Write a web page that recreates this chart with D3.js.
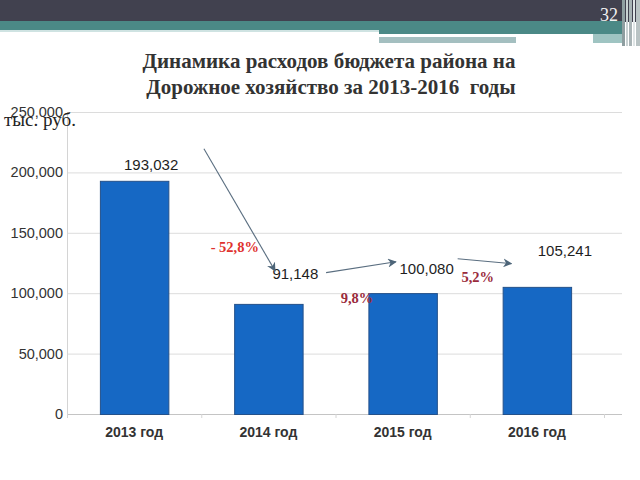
<!DOCTYPE html>
<html>
<head>
<meta charset="utf-8">
<script src="https://cdn.jsdelivr.net/npm/d3@7"></script>
<style>
  body { margin: 0; background: #fff; }
  svg { display: block; }
</style>
</head>
<body>
<svg id="chart" width="640" height="480"></svg>
<script>
// данные
const years = ['2013 год', '2014 год', '2015 год', '2016 год']
const spending = [193032, 91148, 100080, 105241]
const yTicks = [0, 50000, 100000, 150000, 200000, 250000]
// сдвиг подписей значений относительно вершины столбца (px)
const labelShift = [[17, -16], [27, -30], [24, -24], [28, -36]]
// проценты изменения: [текст, позиция по категории, значение, цвет]
const changes = [
  ['- 52,8%', 0.75, 138500, '#e0322e'],
  ['9,8%', 1.66, 96000, '#9a2b3c'],
  ['5,2%', 2.56, 113400, '#9a2b3c']
]
// стрелки: [от категории, от значения, к категории, к значению]
const arrows = [
  [0.52, 219500, 1.05, 118500],
  [1.43, 117000, 1.95, 126000],
  [2.41, 128500, 2.81, 124500]
]

const svg = d3.select('#chart')

/* ------- шапка слайда ------- */
svg.append('rect').attr('x', 0).attr('y', 0).attr('width', 640).attr('height', 22).attr('fill', '#41414f')
svg.append('rect').attr('x', 0).attr('y', 21).attr('width', 622).attr('height', 9).attr('fill', '#4b8986')
svg.append('rect').attr('x', 0).attr('y', 30).attr('width', 379).attr('height', 2).attr('fill', '#cfe3e2')
svg.append('rect').attr('x', 379).attr('y', 30).attr('width', 243).attr('height', 4).attr('fill', '#4b8986')
svg.append('rect').attr('x', 379).attr('y', 34).attr('width', 214).attr('height', 3).attr('fill', '#ffffff')
svg.append('rect').attr('x', 593).attr('y', 34).attr('width', 29).attr('height', 9).attr('fill', '#9fc4c2')
svg.append('rect').attr('x', 379).attr('y', 37).attr('width', 137).attr('height', 6).attr('fill', '#a4bfc0')
const stripes = [[622, 3, '#8e9ea0'], [626, 2, '#c9d2d3'], [629, 3, '#a9b4b6'], [633, 2, '#dfe5e6'], [636, 4, '#b9c3c4']]
stripes.forEach(s => {
  svg.append('rect').attr('x', s[0]).attr('y', 0).attr('width', s[1]).attr('height', 46).attr('fill', s[2])
})
svg.append('text').attr('x', 618).attr('y', 21).attr('text-anchor', 'end')
  .style('font', '18px "Liberation Serif", serif').attr('fill', '#f2f2f2').text('32')

/* ------- заголовок ------- */
svg.append('text').attr('x', 329).attr('y', 68).attr('text-anchor', 'middle')
  .style('font', 'bold 21px "Liberation Serif", serif').attr('fill', '#333')
  .text('Динамика расходов бюджета района на')
svg.append('text').attr('x', 331).attr('y', 94).attr('text-anchor', 'middle')
  .style('font', 'bold 21px "Liberation Serif", serif').attr('fill', '#333')
  .attr('xml:space', 'preserve')
  .text('Дорожное хозяйство за 2013-2016  годы')

/* ------- оси ------- */
const x = d3.scaleBand().domain(years).range([67, 604]).paddingInner(0.49).paddingOuter(0.245)
const step = x.step()
const xi = i => 67 + step * (i + 0.5)
const y = d3.scaleLinear().domain([0, 250000]).range([414, 112])

const grid = svg.append('g')
grid.selectAll('line').data(yTicks).enter().append('line')
  .attr('x1', 67).attr('x2', 622)
  .attr('y1', d => y(d) + 0.5).attr('y2', d => y(d) + 0.5)
  .attr('stroke', d => d === 0 ? '#c4c4c4' : '#dcdcdc').attr('stroke-width', 1)
svg.append('line').attr('x1', 67.5).attr('x2', 67.5).attr('y1', y(250000)).attr('y2', y(0) + 4)
  .attr('stroke', '#d4d4d4')
svg.append('g').selectAll('line').data(d3.range(5)).enter().append('line')
  .attr('x1', i => 67.5 + step * i).attr('x2', i => 67.5 + step * i)
  .attr('y1', y(0)).attr('y2', y(0) + 4).attr('stroke', '#d4d4d4')

svg.append('g').selectAll('text').data(yTicks).enter().append('text')
  .attr('x', 63).attr('y', d => y(d)).attr('dy', '0.35em').attr('text-anchor', 'end')
  .style('font', '14.5px "Liberation Sans", Arial, sans-serif').attr('fill', '#333')
  .text(d => d3.format(',')(d))

svg.append('g').selectAll('text').data(years).enter().append('text')
  .attr('x', d => x(d) + x.bandwidth() / 2).attr('y', 437).attr('text-anchor', 'middle')
  .style('font', 'bold 14px "Liberation Sans", Arial, sans-serif').attr('fill', '#333')
  .text(d => d)

svg.append('text').attr('x', 4).attr('y', 126)
  .style('font', '19px "Liberation Serif", serif').attr('fill', '#222').text('тыс. руб.')

/* ------- столбцы ------- */
svg.append('g').selectAll('rect').data(spending).enter().append('rect')
  .attr('x', (d, i) => x(years[i]) + 0.5)
  .attr('y', d => y(d) + 0.5)
  .attr('width', x.bandwidth())
  .attr('height', d => y(0) - y(d))
  .attr('fill', '#1668c4').attr('stroke', '#24518a').attr('stroke-width', 1)

svg.append('g').selectAll('text').data(spending).enter().append('text')
  .attr('x', (d, i) => x(years[i]) + x.bandwidth() / 2 + labelShift[i][0])
  .attr('y', (d, i) => y(d) + labelShift[i][1])
  .attr('dy', '0.35em').attr('text-anchor', 'middle')
  .style('font', '15px "Liberation Sans", Arial, sans-serif').attr('fill', '#1e1e1e')
  .text(d => d3.format(',')(d))

/* ------- стрелки и проценты ------- */
const defs = svg.append('defs')
defs.append('marker').attr('id', 'arr').attr('viewBox', '0 0 10 10')
  .attr('refX', 9).attr('refY', 5).attr('markerWidth', 9).attr('markerHeight', 9)
  .attr('markerUnits', 'userSpaceOnUse').attr('orient', 'auto')
  .append('path').attr('d', 'M0,0 L10,5 L0,10 L3,5 Z').attr('fill', '#4d6579')

svg.append('g').selectAll('line').data(arrows).enter().append('line')
  .attr('x1', d => xi(d[0])).attr('y1', d => y(d[1]))
  .attr('x2', d => xi(d[2])).attr('y2', d => y(d[3]))
  .attr('stroke', '#5a6e80').attr('stroke-width', 1.1)
  .attr('marker-end', 'url(#arr)')

svg.append('g').selectAll('text').data(changes).enter().append('text')
  .attr('x', d => xi(d[1])).attr('y', d => y(d[2]))
  .attr('dy', '0.35em').attr('text-anchor', 'middle')
  .style('font', 'bold 14.5px "Liberation Serif", serif')
  .attr('fill', d => d[3])
  .text(d => d[0])
</script>
</body>
</html>
